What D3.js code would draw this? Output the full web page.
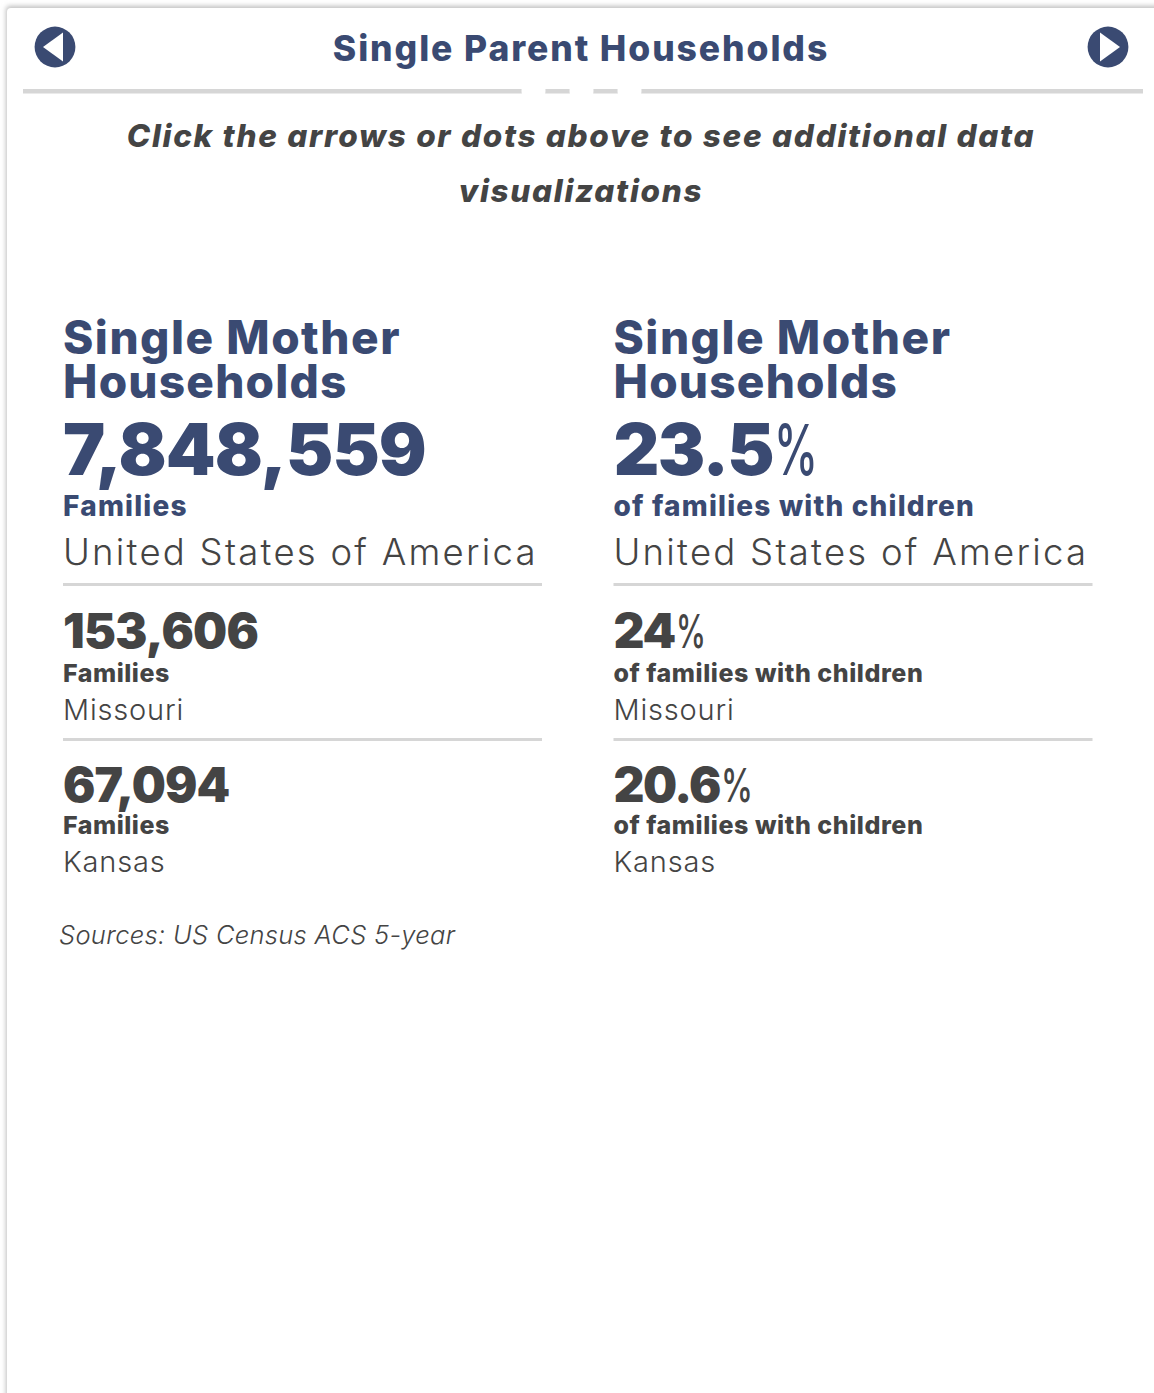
<!DOCTYPE html>
<html>
<head>
<meta charset="utf-8">
<script src="https://cdn.jsdelivr.net/npm/d3@7"></script>
<style>
    html, body { margin: 0; padding: 0; background: #fff; overflow: hidden; }
    text { font-family: Inter, sans-serif; }
</style>
</head>
<body>
<div id="chart"></div>
<script>
const pageTitle = 'Single Parent Households';
const noteLines = ['Click the arrows or dots above to see additional data', 'visualizations'];
const sectionTitles = [['Single Mother', 'Households'], ['Single Mother', 'Households']];
const regions = ['United States of America', 'Missouri', 'Kansas'];
const familyCounts = [7848559, 153606, 67094];
const familyShares = ['23.5', '24', '20.6'];
const unitLabels = ['Families', 'of families with children'];
const sourceText = 'Sources: US Census ACS 5-year';

const navy = '#3a4a72';
const dark = '#444444';
const rule = '#d6d6d6';

const width = 1154;
const height = 1393;

const svg = d3.select('#chart')
    .append('svg')
    .attr('width', width)
    .attr('height', height);

const defs = svg.append('defs');
const shadow = defs.append('filter').attr('id', 'panel-shadow')
    .attr('x', '-5%').attr('y', '-5%').attr('width', '110%').attr('height', '110%');
shadow.append('feGaussianBlur').attr('stdDeviation', 2.5);

/* panel */
svg.append('rect').attr('x', 6).attr('y', 6).attr('width', 1300).attr('height', 1600).attr('rx', 4)
    .attr('fill', '#bdbdbd').attr('filter', 'url(#panel-shadow)');
svg.append('rect').attr('x', 7).attr('y', 8).attr('width', 1300).attr('height', 1600).attr('rx', 4)
    .attr('fill', '#fff');

/* header */
const arrows = [{cx: 55, dir: -1}, {cx: 1108, dir: 1}];
arrows.forEach(a => {
    svg.append('circle').attr('cx', a.cx).attr('cy', 47).attr('r', 20.4).attr('fill', navy);
    svg.append('path')
        .attr('d', d3.line()([[a.cx + a.dir * 12, 47], [a.cx - a.dir * 8, 32.5], [a.cx - a.dir * 8, 61.5]]) + 'Z')
        .attr('fill', '#fff');
});

const addText = (x, y, str, size, weight, color, opts = {}) => {
    return svg.append('text')
        .attr('x', x).attr('y', y)
        .attr('font-size', size)
        .attr('font-weight', weight)
        .attr('fill', color)
        .attr('text-anchor', opts.anchor || 'start')
        .attr('font-style', opts.italic ? 'italic' : null)
        .attr('letter-spacing', opts.spacing || null)
        .text(str);
};

addText(581, 61, pageTitle, 35.5, 800, navy, {anchor: 'middle', spacing: 1.9});

svg.append('rect').attr('x', 23).attr('y', 89).attr('width', 1120).attr('height', 4.5).attr('fill', rule);
d3.range(3).forEach(i => {
    svg.append('circle').attr('cx', 533.5 + i * 48).attr('cy', 91).attr('r', 12).attr('fill', '#fff');
});

noteLines.forEach((line, i) => {
    addText(581, 147 + i * 55, line, 31.5, 800, dark, {anchor: 'middle', italic: true, spacing: 1.7});
});

/* columns */
const colX = d3.scaleBand().domain([0, 1]).range([63, 1164]).paddingInner(0);
const fmt = d3.format(',');

const blocks = [
    {num: 475, unit: 516, region: 564.5, numSize: 71, unitSize: 28, regionSize: 36.5, color: navy, line: 583,
        numSpacing: -0.95, pctW: 44, unitSpacing: [1.2, 1.2], regionSpacing: 2.25},
    {num: 648, unit: 681.5, region: 720, numSize: 48, unitSize: 25, regionSize: 29, color: dark, line: 738,
        numSpacing: -0.7, pctW: 30, unitSpacing: [0.5, 0.55], regionSpacing: 0.8},
    {num: 802, unit: 834, region: 872, numSize: 48, unitSize: 25, regionSize: 29, color: dark, line: null,
        numSpacing: -0.85, pctW: 32, unitSpacing: [0.5, 0.55], regionSpacing: 0.8}
];

[0, 1].forEach(col => {
    const x = colX(col);
    sectionTitles[col].forEach((line, i) => {
        addText(x, 354 + i * 44, line, 46, 800, navy, {spacing: i === 0 ? 1.5 : 1.2});
    });
    blocks.forEach((b, i) => {
        if (col === 0) {
            addText(x, b.num, fmt(familyCounts[i]), b.numSize, 900, b.color, {spacing: b.numSpacing});
        } else {
            const t = addText(x, b.num, familyShares[i], b.numSize, 900, b.color, {spacing: b.numSpacing - 0.6});
            const numW = t.node().getComputedTextLength();
            // the percent sign is thin and narrow next to the number
            const pct = addText(0, 0, '%', b.numSize * 0.98, 500, b.color);
            const pctScale = b.pctW / pct.node().getComputedTextLength();
            pct.attr('transform', `translate(${x + numW + 1},${b.num}) scale(${pctScale},1)`);
        }
        addText(x, b.unit, unitLabels[col], b.unitSize, 800, b.color, {spacing: b.unitSpacing[col]});
        addText(x, b.region, regions[i], b.regionSize, 300, dark, {spacing: b.regionSpacing});
        if (b.line) {
            svg.append('rect').attr('x', x).attr('y', b.line).attr('width', 479).attr('height', 3).attr('fill', rule);
        }
    });
});

addText(59, 944, sourceText, 25.5, 300, dark, {italic: true, spacing: 0.3});
</script>
</body>
</html>
